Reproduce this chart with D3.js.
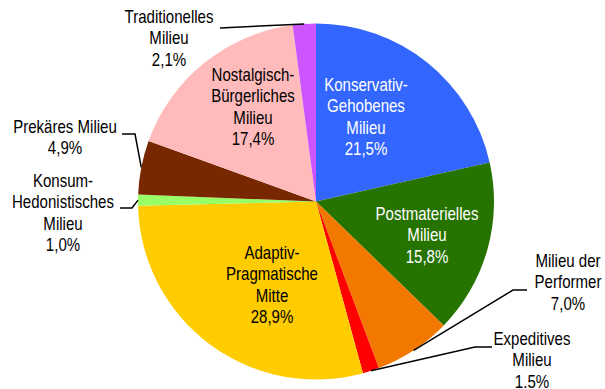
<!DOCTYPE html>
<html>
<head>
<meta charset="utf-8">
<script src="https://cdn.jsdelivr.net/npm/d3@7"></script>
<style>
  html, body { margin: 0; padding: 0; background: #fff; }
  svg { display: block; }
  text { font-family: "Liberation Sans", Arial, sans-serif; font-size: 17.5px; }
</style>
</head>
<body>
<svg id="chart" width="605" height="389"></svg>
<script>
// Sinus-Milieus: share of each milieu (percent), clockwise from 12 o'clock
const milieus = [
  "Konservativ-Gehobenes Milieu",
  "Postmaterielles Milieu",
  "Milieu der Performer",
  "Expeditives Milieu",
  "Adaptiv-Pragmatische Mitte",
  "Konsum-Hedonistisches Milieu",
  "Prekäres Milieu",
  "Nostalgisch-Bürgerliches Milieu",
  "Traditionelles Milieu"
];
const shares = [21.5, 15.8, 7.0, 1.5, 28.9, 1.0, 4.9, 17.4, 2.1];
const shareLabels = ["21,5%", "15,8%", "7,0%", "1.5%", "28,9%", "1,0%", "4,9%", "17,4%", "2,1%"];
const nameLines = [
  ["Konservativ-", "Gehobenes", "Milieu"],
  ["Postmaterielles", "Milieu"],
  ["Milieu der", "Performer"],
  ["Expeditives", "Milieu"],
  ["Adaptiv-", "Pragmatische", "Mitte"],
  ["Konsum-", "Hedonistisches", "Milieu"],
  ["Prekäres Milieu"],
  ["Nostalgisch-", "Bürgerliches", "Milieu"],
  ["Traditionelles", "Milieu"]
];

// Styling and label layout
const colors = ["#3366ff", "#267300", "#f27800", "#ff0000", "#ffcc00", "#99ff66", "#772800", "#ffbbbb", "#cc55ff"];
const textColors = ["#fff", "#fff", "#000", "#000", "#000", "#000", "#000", "#000", "#000"];
const labelPos = [
  [366, 91], [427, 220], [568, 267], [532, 345], [272, 259],
  [63, 187], [65, 133], [253, 81], [169, 23]
];
// leader line bends (label side first); null = label sits inside its slice
const leaders = [
  null, null,
  [[527, 290], [513, 290]],
  [[492, 347], [475, 347]],
  null,
  [[120, 208], [132, 208]],
  [[122, 134], [135, 134]],
  null,
  [[220, 28]]
];

const cx = 316, cy = 201.5, radius = 178, lineH = 21.3;
const squeeze = 0.86; // narrow type

const svg = d3.select("#chart");
const g = svg.append("g").attr("transform", `translate(${cx},${cy})`);

const pie = d3.pie().sort(null).value(d => d)(shares);
const arc = d3.arc().innerRadius(0).outerRadius(radius);

g.selectAll("path.slice")
  .data(pie)
  .join("path")
  .attr("class", "slice")
  .attr("d", arc)
  .attr("fill", (d, i) => colors[i]);

// leader lines from the outside labels to the slice rim
const rimArc = d3.arc().innerRadius(radius).outerRadius(radius);
const line = d3.line();
pie.forEach((d, i) => {
  if (!leaders[i]) return;
  const rim = rimArc.centroid(d);
  const pts = leaders[i].map(p => [p[0] - cx, p[1] - cy]).concat([rim]);
  g.append("path")
    .attr("d", line(pts))
    .attr("fill", "none")
    .attr("stroke", "#000")
    .attr("stroke-width", 1.5);
});

// labels
const labels = svg.selectAll("text.lbl")
  .data(pie)
  .join("text")
  .attr("class", "lbl")
  .attr("text-anchor", "middle")
  .attr("transform", (d, i) => `translate(${labelPos[i][0]},${labelPos[i][1]}) scale(${squeeze},1)`)
  .attr("fill", (d, i) => textColors[i]);

labels.each(function(d, i) {
  const t = d3.select(this);
  const lines = nameLines[i].concat([shareLabels[i]]);
  lines.forEach((s, k) => {
    t.append("tspan")
      .attr("x", 0)
      .attr("y", k * lineH)
      .text(s);
  });
});
</script>
</body>
</html>
